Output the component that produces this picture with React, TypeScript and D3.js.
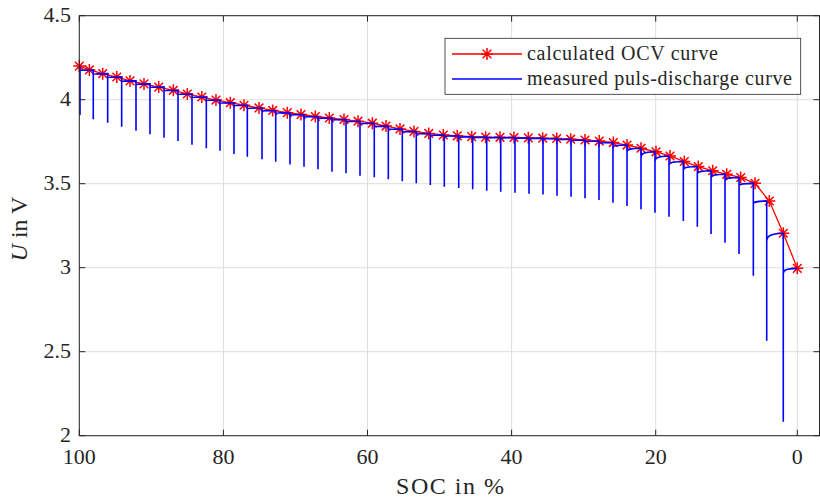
import React from "react";
import * as d3 from "d3";

// ---- data ----
const xTicks = [100, 80, 60, 40, 20, 0];
const yTicks = [2, 2.5, 3, 3.5, 4, 4.5];
const yTickLabels = ["2", "2.5", "3", "3.5", "4", "4.5"];

// calculated OCV points (SOC in %, voltage in V)
const ocvSoc = [100, 98.6, 96.75, 94.8, 92.96, 91.02, 88.98, 86.95, 85.01, 83.0, 81.03, 79.04, 77.14, 75.06, 73.16, 71.13, 69.23, 67.24, 65.3, 63.26, 61.32, 59.33, 57.43, 55.49, 53.55, 51.5, 49.48, 47.54, 45.54, 43.6, 41.61, 39.67, 37.68, 35.68, 33.74, 31.8, 29.81, 27.83, 25.88, 23.98, 22.04, 19.96, 17.98, 15.96, 13.98, 11.95, 9.97, 7.99, 5.97, 3.95, 1.98, 0];
const ocv = [4.2, 4.177, 4.155, 4.135, 4.112, 4.094, 4.075, 4.056, 4.034, 4.016, 3.998, 3.982, 3.967, 3.951, 3.936, 3.923, 3.912, 3.9, 3.891, 3.882, 3.872, 3.86, 3.843, 3.826, 3.811, 3.799, 3.79, 3.785, 3.78, 3.777, 3.776, 3.775, 3.773, 3.771, 3.769, 3.765, 3.76, 3.754, 3.745, 3.73, 3.711, 3.69, 3.665, 3.632, 3.602, 3.577, 3.556, 3.537, 3.502, 3.397, 3.205, 2.996];

// measured pulse discharge: SOC at pulse, minimum voltage during pulse, drop below next OCV at start of relaxation
const pulseSoc = [99.9, 98.06, 96.06, 94.12, 92.13, 90.19, 88.24, 86.3, 84.36, 82.37, 80.47, 78.53, 76.68, 74.64, 72.74, 70.76, 68.81, 66.87, 64.93, 62.98, 61.04, 59.06, 57.11, 55.17, 53.23, 51.28, 49.34, 47.34, 45.4, 43.45, 41.51, 39.53, 37.58, 35.64, 33.7, 31.75, 29.81, 27.87, 25.93, 23.98, 22.04, 20.1, 18.12, 16.1, 14.12, 12.18, 10.21, 8.23, 6.21, 4.32, 1.98];
const pulseMin = [3.909, 3.883, 3.863, 3.839, 3.815, 3.794, 3.774, 3.754, 3.732, 3.711, 3.696, 3.677, 3.661, 3.645, 3.631, 3.615, 3.601, 3.586, 3.571, 3.562, 3.548, 3.538, 3.526, 3.514, 3.502, 3.492, 3.482, 3.474, 3.467, 3.458, 3.452, 3.446, 3.44, 3.435, 3.429, 3.423, 3.413, 3.403, 3.387, 3.367, 3.348, 3.327, 3.304, 3.278, 3.244, 3.201, 3.149, 3.082, 2.952, 2.565, 2.083];
const relaxDrop = [0.006, 0.006, 0.006, 0.006, 0.006, 0.006, 0.006, 0.006, 0.006, 0.006, 0.006, 0.006, 0.007, 0.007, 0.007, 0.007, 0.007, 0.007, 0.007, 0.007, 0.007, 0.007, 0.007, 0.007, 0.007, 0.007, 0.009, 0.009, 0.009, 0.009, 0.009, 0.009, 0.009, 0.009, 0.009, 0.009, 0.009, 0.009, 0.015, 0.02, 0.033, 0.032, 0.02, 0.02, 0.02, 0.02, 0.017, 0.015, 0.016, 0.05, 0.03];

const W = 820;
const H = 499;
const AXC = "#262626";
const FONT = "Liberation Serif, DejaVu Serif, serif";

export default function App() {
  const x = d3.scaleLinear().domain([100, 20, 0, -3.2]).range([79.3, 655.7, 797.3, 820]);
  const y = d3.scaleLinear().domain([2, 4.5]).range([435.7, 15.7]);
  const left = x(100);
  const right = 819.5;
  const top = y(4.5);
  const bottom = y(2);

  const redLine = d3.line<number>().x((_, i) => x(ocvSoc[i])).y((v) => y(v))(ocv) || "";

  // measured curve path
  let blue = `M${x(pulseSoc[0])},${y(ocv[0])}`;
  pulseSoc.forEach((s, k) => {
    const x0 = x(s);
    const x1 = k + 1 < pulseSoc.length ? x(pulseSoc[k + 1]) : x(ocvSoc[ocvSoc.length - 1]);
    const yEnd = y(ocv[k + 1]);
    const yStart = y(ocv[k + 1] - relaxDrop[k]);
    const w = x1 - x0;
    blue += `L${x0},${y(pulseMin[k])}L${x0},${yStart}`;
    blue += `C${x0},${yEnd + 0.3 * (yStart - yEnd)} ${x0 + 0.2 * w},${yEnd + 0.08 * (yStart - yEnd)} ${x1},${yEnd}`;
  });

  const star = (cx: number, cy: number, r = 6) => {
    const d = r * 0.72;
    return `M${cx - r},${cy}L${cx + r},${cy}M${cx},${cy - r}L${cx},${cy + r}M${cx - d},${cy - d}L${cx + d},${cy + d}M${cx - d},${cy + d}L${cx + d},${cy - d}`;
  };

  const tl = 6;
  const txt = { fontFamily: FONT };
  return (
    <svg width={W} height={H} style={{ position: "absolute", left: 0, top: 0, background: "#fff", fontFamily: FONT }}>
      <rect x={0} y={0} width={W} height={H} fill="#fff" />
      {/* grid */}
      {xTicks.map((t) => (
        <line key={"gx" + t} x1={x(t)} x2={x(t)} y1={top} y2={bottom} stroke="#dedede" strokeWidth={1} />
      ))}
      {yTicks.map((t) => (
        <line key={"gy" + t} x1={left} x2={right} y1={y(t)} y2={y(t)} stroke="#dedede" strokeWidth={1} />
      ))}
      {/* red OCV curve */}
      <path d={redLine} fill="none" stroke="#ff0000" strokeWidth={1.3} />
      {ocv.map((v, i) => (
        <path key={"s" + i} d={star(x(ocvSoc[i]), y(v))} stroke="#ff0000" strokeWidth={1.5} fill="none" />
      ))}
      {/* blue measured */}
      <path d={blue} fill="none" stroke="#0000ff" strokeWidth={1.6} />
      {/* axes box */}
      <rect x={left} y={top} width={right - left} height={bottom - top} fill="none" stroke={AXC} strokeWidth={1} />
      {xTicks.map((t) => (
        <g key={"tx" + t}>
          <line x1={x(t)} x2={x(t)} y1={bottom} y2={bottom - tl} stroke={AXC} />
          <line x1={x(t)} x2={x(t)} y1={top} y2={top + tl} stroke={AXC} />
          <text x={x(t)} y={464} textAnchor="middle" fontSize={22} fill={AXC} style={txt}>{t}</text>
        </g>
      ))}
      {yTicks.map((t, i) => (
        <g key={"ty" + t}>
          <line x1={left} x2={left + tl} y1={y(t)} y2={y(t)} stroke={AXC} />
          <line x1={right} x2={right - tl} y1={y(t)} y2={y(t)} stroke={AXC} />
          <text x={71} y={y(t) + 6.5} textAnchor="end" fontSize={22} fill={AXC} style={txt}>{yTickLabels[i]}</text>
        </g>
      ))}
      {/* axis labels */}
      <text x={450} y={494} textAnchor="middle" fontSize={24} fill={AXC} style={txt} textLength={108} lengthAdjust="spacing">SOC in %</text>
      <text transform="translate(27,229) rotate(-90)" textAnchor="middle" fontSize={24} fill={AXC} style={txt}>
        <tspan fontStyle="italic">U</tspan> in V
      </text>
      {/* legend */}
      <rect x={445} y={38.3} width={355.7} height={56} fill="#fff" stroke={AXC} strokeWidth={0.8} />
      <line x1={452} x2={522} y1={54} y2={54} stroke="#ff0000" strokeWidth={1.3} />
      <path d={star(487, 54)} stroke="#ff0000" strokeWidth={1.5} fill="none" />
      <line x1={452} x2={522} y1={79} y2={79} stroke="#0000ff" strokeWidth={1.6} />
      <text x={527} y={60} fontSize={20} fill={AXC} style={txt} textLength={191} lengthAdjust="spacing">calculated OCV curve</text>
      <text x={527} y={85} fontSize={20} fill={AXC} style={txt} textLength={265} lengthAdjust="spacing">measured puls-discharge curve</text>
    </svg>
  );
}
